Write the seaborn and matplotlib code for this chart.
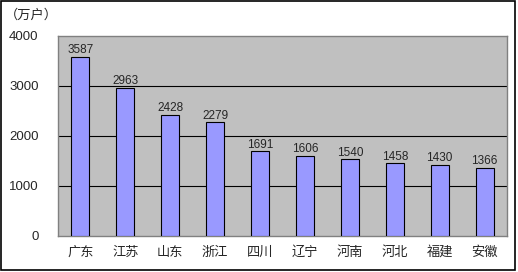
import matplotlib
matplotlib.use("Agg")
import matplotlib.pyplot as plt
import seaborn as sns
import pandas as pd

provinces = ["广东", "江苏", "山东", "浙江", "四川", "辽宁", "河南", "河北", "福建", "安徽"]
values = [3587, 2963, 2428, 2279, 1691, 1606, 1540, 1458, 1430, 1366]
yticks = [0, 1000, 2000, 3000, 4000]
unit_label = "（万户）"

sns.set_theme(style="white")
plt.rcParams['font.family'] = ['Noto Sans CJK SC', 'DejaVu Sans']

df = pd.DataFrame({"province": provinces, "value": values})

fig = plt.figure(figsize=(5.18, 2.72), dpi=100)
ax = fig.add_axes([58/518, 1 - 236/272, (507-58)/518, (236-36)/272])

ax.set_facecolor("#C0C0C0")
sns.barplot(data=df, x="province", y="value", color="#9999FF", width=0.4,
            edgecolor="black", linewidth=0.8, saturation=1, ax=ax, zorder=3)

ax.set_ylim(0, 4000)
ax.set_xlim(-0.5, len(provinces) - 0.5)
ax.set_yticks(yticks)
ax.set_yticklabels([str(t) for t in yticks], fontsize=9.5,
                   family=['Liberation Sans', 'DejaVu Sans'])
ax.tick_params(axis='x', labelsize=9.5, length=0, pad=7)
ax.tick_params(axis='y', length=0, pad=14)
ax.set_xlabel("")
ax.set_ylabel("")
for t in [1000, 2000, 3000]:
    ax.axhline(t, color="black", linewidth=0.8, zorder=1)
for s in ax.spines.values():
    s.set_color("#808080")
    s.set_linewidth(1)

for i, v in enumerate(values):
    ax.text(i, v + 10, str(v), ha="center", va="bottom", fontsize=8.5,
            family=['Liberation Sans', 'DejaVu Sans'], zorder=4)

fig.text(5/518, 1 - 15/272, unit_label, ha="left", va="center", fontsize=9.5)

border = plt.Rectangle((1/518, 2/272), 514/518, 269/272, transform=fig.transFigure,
                       fill=False, edgecolor="black", linewidth=1.2)
fig.patches.append(border)

fig.savefig("out.png", dpi=100)
